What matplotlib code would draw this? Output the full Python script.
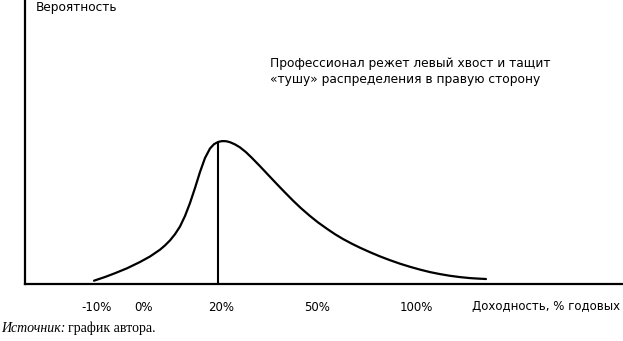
import numpy as np
import matplotlib.pyplot as plt

W, H = 623, 341

# curve: horizontal position along the return axis and probability height
curve_x = [94, 105, 115, 127, 140, 150, 160, 165, 170, 175, 180, 185, 190,
           195, 200, 205, 210, 214, 218, 222, 226, 230, 235, 240, 246, 252,
           260, 268, 277, 285, 293, 301, 310, 318, 327, 335, 343, 352, 360,
           370, 380, 390, 400, 410, 420, 430, 440, 450, 460, 470, 478, 486]
curve_y = [3.3, 7, 10.8, 15.7, 22, 27.5, 34.3, 38.6, 43.6, 49.8, 57.5, 68,
           81, 96, 112, 126, 135.5, 139.8, 142, 142.9, 142.8, 141.8, 139.6,
           136.6, 131.8, 126, 117.8, 109.3, 99.8, 91.5, 83.4, 75.8, 68, 61.6,
           55.2, 49.8, 45, 40.2, 36.3, 31.8, 27.6, 23.8, 20.3, 17.2, 14.4,
           11.9, 9.9, 8.2, 6.9, 5.9, 5.4, 5.0]

peak_x = 218
peak_y = 142

tick_pos = [97, 143.5, 221, 317, 416]
tick_labels = ['-10%', '0%', '20%', '50%', '100%']

sans = ['DejaVu Sans']
fs = 8.5

fig = plt.figure(figsize=(W / 100, H / 100), dpi=100)
ax = fig.add_axes([25 / W, (H - 284) / H, (622 - 25) / W, 284 / H])
ax.set_xlim(25, 622)
ax.set_ylim(0, 284)

ax.plot(curve_x, curve_y, color='black', lw=1.6, solid_capstyle='round',
        solid_joinstyle='round')
ax.vlines(peak_x, 0, peak_y, color='black', lw=1.5)

for s in ['top', 'right']:
    ax.spines[s].set_visible(False)
for s in ['left', 'bottom']:
    ax.spines[s].set_linewidth(1.6)

ax.set_yticks([])
ax.set_xticks(tick_pos, tick_labels, family=sans, fontsize=fs)
ax.tick_params(axis='x', length=0, pad=12.5)


def px(x, y):
    return x / W, 1 - y / H


fig.text(*px(36, 7), 'Вероятность', family=sans, fontsize=8.7, va='center')
fig.text(*px(472, 306), 'Доходность, % годовых', family=sans, fontsize=fs,
         va='center')
fig.text(*px(270, 71), 'Профессионал режет левый хвост и тащит\n'
         '«тушу» распределения в правую сторону',
         family=sans, fontsize=8.8, va='center', linespacing=1.3)

src = fig.text(*px(1, 328), 'Источник:', family=['Liberation Serif'],
               style='italic', fontsize=10, va='center')
fig.canvas.draw()
bb = src.get_window_extent()
fig.text((bb.x1 + 3) / W, 1 - 328 / H, 'график автора.',
         family=['Liberation Serif'], fontsize=10, va='center')

fig.savefig('out.png', dpi=100)
